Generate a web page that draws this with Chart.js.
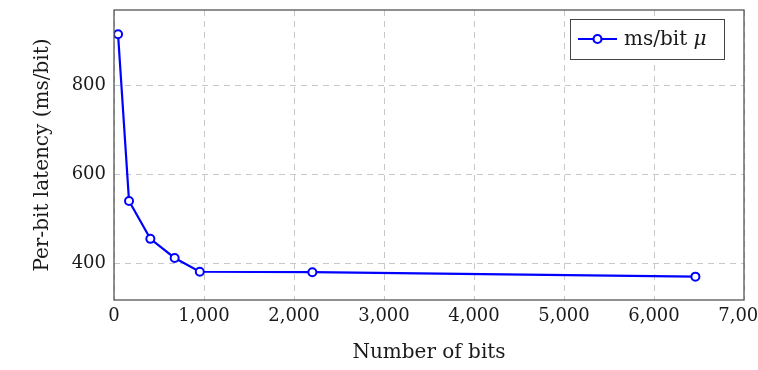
<!DOCTYPE html>
<html>
<head>
<meta charset="utf-8">
<script src="https://cdn.jsdelivr.net/npm/chart.js@4/dist/chart.umd.min.js"></script>
<style>
  html, body { margin: 0; padding: 0; background: #fff; }
  #wrap { width: 758px; height: 370px; position: relative; }
</style>
</head>
<body>
<div id="wrap"><canvas id="c" width="758" height="370"></canvas></div>
<script>
const bits = [45, 167, 404, 674, 953, 2204, 6460];
const latency = [915, 540, 455, 412, 381, 380, 370];
const xTicks = [0, 1000, 2000, 3000, 4000, 5000, 6000, 7000];
const yTicks = [400, 600, 800];
const seriesLabel = 'ms/bit';
const seriesSymbol = 'μ';
const xTitle = 'Number of bits';
const yTitle = 'Per-bit latency (ms/bit)';

const FONT = '"DejaVu Serif", "Liberation Serif", serif';
const FS = 18;
const FT = 20;
const BLUE = '#0000ff';
const TXT = '#1a1a1a';

const framePlugin = {
  id: 'frame',
  afterDraw(chart) {
    const { ctx, chartArea: a } = chart;
    ctx.save();
    ctx.strokeStyle = '#555';
    ctx.lineWidth = 1.3;
    ctx.strokeRect(a.left, a.top, a.right - a.left, a.bottom - a.top);
    // legend box
    const bx = 570, by = 19, bw = 154, bh = 40;
    ctx.fillStyle = '#fff';
    ctx.fillRect(bx, by, bw, bh);
    ctx.strokeStyle = '#444';
    ctx.lineWidth = 1;
    ctx.strokeRect(bx + 0.5, by + 0.5, bw, bh);
    const cy = by + bh / 2;
    ctx.strokeStyle = BLUE;
    ctx.lineWidth = 2.2;
    ctx.beginPath();
    ctx.moveTo(578, cy);
    ctx.lineTo(617, cy);
    ctx.stroke();
    ctx.beginPath();
    ctx.arc(597.5, cy, 4, 0, Math.PI * 2);
    ctx.fillStyle = '#fff';
    ctx.fill();
    ctx.stroke();
    ctx.fillStyle = TXT;
    ctx.textBaseline = 'middle';
    ctx.textAlign = 'left';
    ctx.font = FT + 'px ' + FONT;
    ctx.fillText(seriesLabel, 624, cy + 1);
    const w = ctx.measureText(seriesLabel + ' ').width;
    ctx.font = 'italic ' + FT + 'px ' + FONT;
    ctx.fillText(seriesSymbol, 624 + w, cy + 1);
    ctx.restore();
  }
};

new Chart(document.getElementById('c'), {
  type: 'line',
  data: {
    datasets: [{
      label: seriesLabel + ' ' + seriesSymbol,
      data: bits.map((x, i) => ({ x: x, y: latency[i] })),
      borderColor: BLUE,
      borderWidth: 2.2,
      pointRadius: 4,
      pointBorderWidth: 2,
      pointBackgroundColor: '#fff',
      pointBorderColor: BLUE,
      tension: 0,
      fill: false
    }]
  },
  options: {
    responsive: false,
    animation: false,
    devicePixelRatio: 1,
    layout: { padding: { left: 0, right: 14, top: 10, bottom: 0 } },
    plugins: { legend: { display: false }, tooltip: { enabled: false } },
    scales: {
      x: {
        type: 'linear',
        min: 0, max: 7000,
        afterBuildTicks: s => { s.ticks = xTicks.map(v => ({ value: v })); },
        afterFit: s => { s.height = 70; s.paddingLeft = 0; s.paddingRight = 0; },
        ticks: {
          padding: 6,
          maxRotation: 0,
          autoSkip: false,
          color: TXT,
          font: { family: FONT, size: FS },
          callback: v => v.toLocaleString('en-US')
        },
        grid: {
          color: '#c8c8c8',
          lineWidth: 1,
          drawTicks: false,
          tickLength: 0
        },
        border: { display: false, dash: [6, 5] },
        title: {
          display: true,
          text: xTitle,
          color: TXT,
          font: { family: FONT, size: FT },
          padding: { top: 0, bottom: 5 }
        }
      },
      y: {
        type: 'linear',
        min: 317.5, max: 969.5,
        afterBuildTicks: s => { s.ticks = yTicks.map(v => ({ value: v })); },
        afterFit: s => { s.width = 114; s.paddingTop = 0; s.paddingBottom = 0; },
        ticks: {
          padding: 8,
          color: TXT,
          font: { family: FONT, size: FS }
        },
        grid: {
          color: '#c8c8c8',
          lineWidth: 1,
          drawTicks: false,
          tickLength: 0
        },
        border: { display: false, dash: [6, 5] },
        title: {
          display: true,
          text: yTitle,
          color: TXT,
          font: { family: FONT, size: FT },
          padding: { top: 31, bottom: 0 }
        }
      }
    }
  },
  plugins: [framePlugin]
});
</script>
</body>
</html>
